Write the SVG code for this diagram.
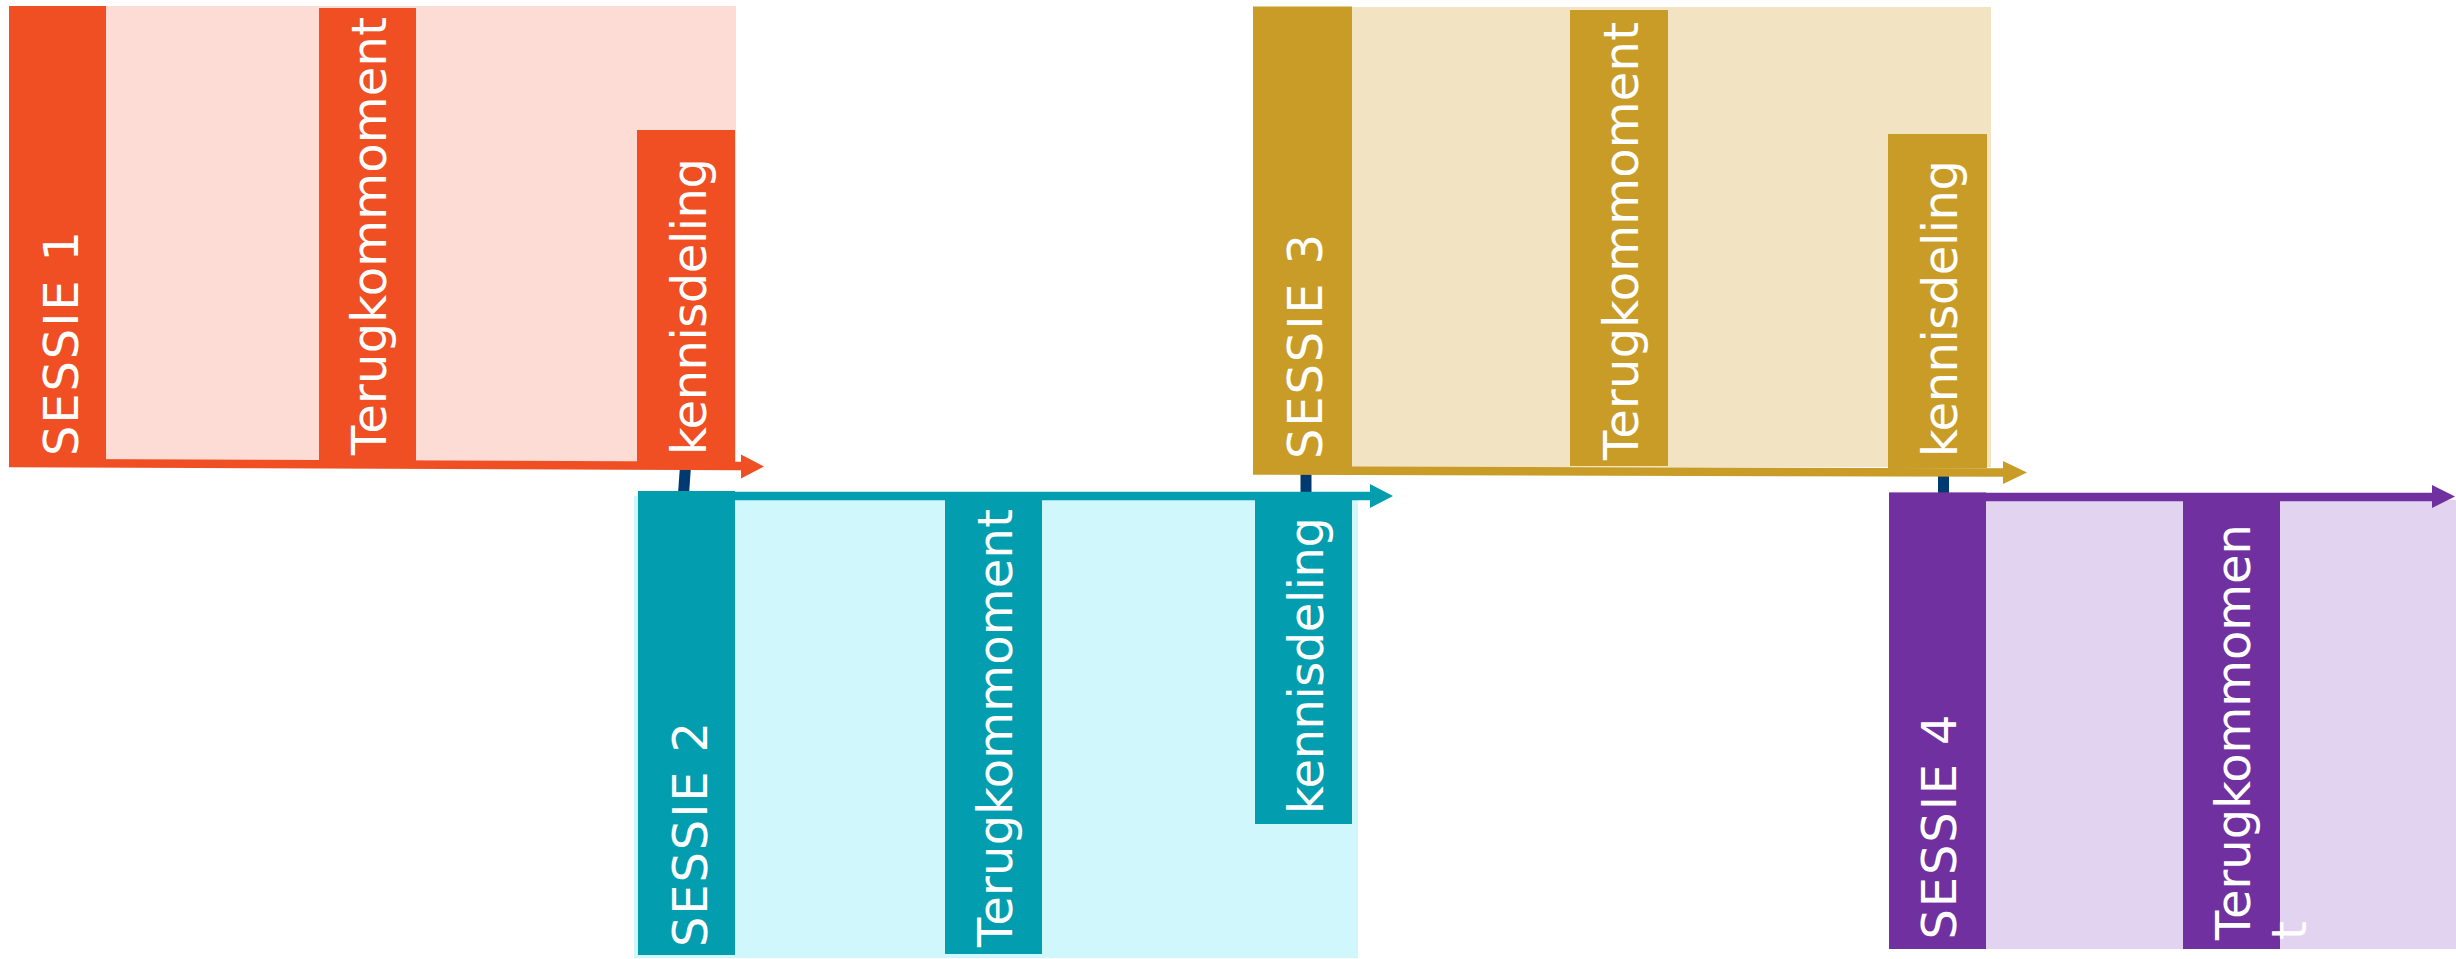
<svg xmlns="http://www.w3.org/2000/svg" width="2456" height="959" viewBox="0 0 2456 959">
<style>
text{font-family:"DejaVu Sans",Verdana,"Liberation Sans",sans-serif;font-size:48px;fill:#ffffff}
.s1d{fill:#F04E23}.s1p{fill:#FCDCD5}.s1l{stroke:#F04E23;stroke-width:8.5;fill:none}
.s2d{fill:#029DAE}.s2p{fill:#CFF7FC}.s2l{stroke:#029DAE;stroke-width:8.5;fill:none}
.s3d{fill:#C99C27}.s3p{fill:#F2E4C3}.s3l{stroke:#C99C27;stroke-width:8.5;fill:none}
.s4d{fill:#7030A0}.s4p{fill:#E2D3F1}.s4l{stroke:#7030A0;stroke-width:8.5;fill:none}
.conn{stroke:#003A70;stroke-width:11;fill:none}
</style>
<g id="connectors">
<line class="conn" x1="685.5" y1="466" x2="683.5" y2="494"/>
<line class="conn" x1="1306" y1="470" x2="1306" y2="494"/>
<line class="conn" x1="1943.5" y1="472" x2="1943.5" y2="495"/>
</g>
<g id="sessie1">
<rect class="s1p" x="9" y="6" width="727" height="456"/>
<rect class="s1d" x="9" y="6" width="97" height="461"/>
<rect class="s1d" x="319" y="8" width="97" height="454"/>
<rect class="s1d" x="637" y="130" width="98" height="333"/>
<line class="s1l" x1="9" y1="463" x2="742" y2="466"/>
<polygon class="s1d" points="741,454.5 764,466.5 741,478.5"/>
<text transform="translate(78,456) rotate(-90)" textLength="225" lengthAdjust="spacing">SESSIE 1</text>
<text transform="translate(386,455) rotate(-90)" textLength="438" lengthAdjust="spacing">Terugkommoment</text>
<text transform="translate(706,455) rotate(-90)" textLength="297" lengthAdjust="spacing">kennisdeling</text>
</g>
<g id="sessie2">
<rect class="s2p" x="634" y="496" width="724" height="462"/>
<rect class="s2d" x="638" y="491" width="97" height="464"/>
<rect class="s2d" x="945" y="500" width="97" height="454"/>
<rect class="s2d" x="1255" y="500" width="97" height="324"/>
<line class="s2l" x1="638" y1="496" x2="1372" y2="496"/>
<polygon class="s2d" points="1370,484 1393,496 1370,508"/>
<text transform="translate(707,947) rotate(-90)" textLength="225" lengthAdjust="spacing">SESSIE 2</text>
<text transform="translate(1012,947) rotate(-90)" textLength="438" lengthAdjust="spacing">Terugkommoment</text>
<text transform="translate(1323,814) rotate(-90)" textLength="297" lengthAdjust="spacing">kennisdeling</text>
</g>
<g id="sessie3">
<rect class="s3p" x="1253" y="7" width="738" height="460"/>
<rect class="s3d" x="1253" y="6.5" width="99" height="467"/>
<rect class="s3d" x="1570" y="10" width="98" height="456"/>
<rect class="s3d" x="1888" y="134" width="99" height="334"/>
<line class="s3l" x1="1253" y1="470.5" x2="2005" y2="472.5"/>
<polygon class="s3d" points="2003,461 2027,472.5 2003,484"/>
<text transform="translate(1322,459) rotate(-90)" textLength="225" lengthAdjust="spacing">SESSIE 3</text>
<text transform="translate(1638,460) rotate(-90)" textLength="438" lengthAdjust="spacing">Terugkommoment</text>
<text transform="translate(1957,457) rotate(-90)" textLength="297" lengthAdjust="spacing">kennisdeling</text>
</g>
<g id="sessie4">
<rect class="s4p" x="1986" y="500" width="470" height="449"/>
<rect class="s4d" x="1889" y="492.5" width="97" height="456.5"/>
<rect class="s4d" x="2183" y="500" width="97" height="449"/>
<line class="s4l" x1="1889" y1="497" x2="2434" y2="497"/>
<polygon class="s4d" points="2432,485 2455,496.5 2432,508"/>
<text transform="translate(1956,939.5) rotate(-90)" textLength="225" lengthAdjust="spacing">SESSIE 4</text>
<text transform="translate(2250,940) rotate(-90)"><tspan textLength="416" lengthAdjust="spacing">Terugkommomen</tspan><tspan x="0" dy="56">t</tspan></text>
</g>
</svg>
